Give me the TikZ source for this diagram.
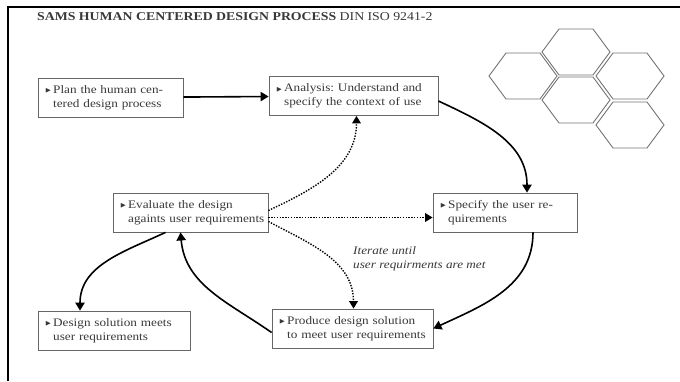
\documentclass[tikz,border=0pt]{standalone}
\usepackage{amssymb}
\usepackage{fontspec}
\setmainfont[FakeStretch=1.15]{Liberation Serif}
\usetikzlibrary{arrows.meta}
\frenchspacing
\definecolor{boxgray}{gray}{0.4}
\definecolor{textgray}{gray}{0.22}
\definecolor{hexgray}{gray}{0.45}
\newcommand{\bul}{\raisebox{0.6pt}{\scriptsize$\blacktriangleright$}}
\newcommand{\stepitem}[2]{\begin{tabular}{@{}l@{\,}l@{}}\bul & #1\\ & #2\end{tabular}}
\tikzset{>/.tip={Triangle[scale=1.1]},
  stepbox/.style={draw=boxgray, line width=0.8pt, text=textgray, minimum height=39,
    inner xsep=7, inner ysep=0, align=left, font=\fontsize{11.5}{14}\selectfont},
  flow/.style={->, line width=1.6pt},
  iter/.style={->, line width=1.4pt, dash pattern=on 1.4pt off 1.4pt}}

\begin{document}
\begin{tikzpicture}[x=1pt, y=-1pt]
\useasboundingbox (0,0) rectangle (680,381);
\draw[line width=1.2pt] (8,381) -- (8,7) -- (680,7);
\node[anchor=west, text=textgray, inner sep=0, font=\fontsize{12}{14}\selectfont] (title) at (37,17)
  {\textbf{SAMS HUMAN CENTERED DESIGN PROCESS} DIN ISO 9241-2};

\node[stepbox, text width=131] (plan)     at (110.5,97.5) {\stepitem{Plan the human cen-}{tered design process}};
\node[stepbox, text width=155] (analysis) at (353.5,96)   {\stepitem{Analysis: Understand and}{specify the context of use}};
\node[stepbox, text width=141] (evaluate) at (190.5,212.5) {\stepitem{Evaluate the design}{againts user requirements}};
\node[stepbox, text width=130] (specify)  at (505,212.5)  {\stepitem{Specify the user re-}{quirements}};
\node[stepbox, text width=138] (meets)    at (114,330.5)  {\stepitem{Design solution meets}{user requirements}};
\node[stepbox, text width=147] (produce)  at (352.5,328.5) {\stepitem{Produce design solution}{to meet user requirements}};
\node[anchor=north west, align=left, inner sep=0, text=textgray,
  font=\fontsize{11.5}{14}\selectfont\itshape] (note) at (353,246) {Iterate until\\user requirments are met};

% main cycle
\draw[flow] (plan) -- (analysis);
\draw[flow] ([yshift=-5]analysis.east) to[out=-25,in=90] ([xshift=22]specify.north);
\draw[flow] ([xshift=28]specify.south) to[out=-90,in=25] (produce.east);
\draw[flow] ([yshift=-4]produce.west) to[out=145,in=-85] ([xshift=-10]evaluate.south);
\draw[flow] ([xshift=-25]evaluate.south) to[out=-155,in=90] ([xshift=-34]meets.north);

% iterations
\draw[iter] ([yshift=2]evaluate.east) to[out=25,in=-90] ([xshift=3]analysis.south);
\draw[iter] ([yshift=-5]evaluate.east) -- ([yshift=-5]specify.west);
\draw[iter] ([yshift=-9]evaluate.east) to[out=-28,in=90] ([xshift=1]produce.north);

% hexagons
\foreach \cx/\cy in {523/76,576/52,630/76,576/100,630/125}
  \draw[hexgray, line width=0.9pt, shift={(\cx,\cy)}]
    (-34,0) -- (-17,-23) -- (17,-23) -- (34,0) -- (17,23) -- (-17,23) -- cycle;
\end{tikzpicture}
\end{document}
